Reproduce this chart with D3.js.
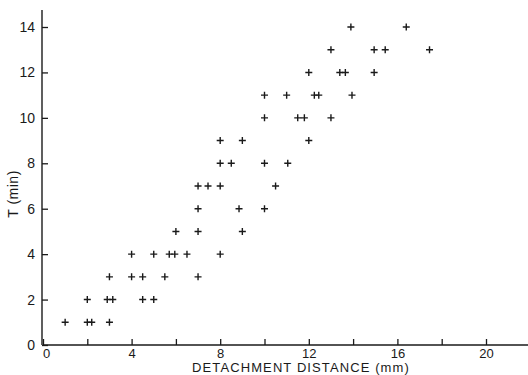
<!DOCTYPE html>
<html>
<head>
<meta charset="utf-8">
<script src="https://cdn.jsdelivr.net/npm/d3@7"></script>
<style>
  html, body { margin: 0; padding: 0; background: #fff; }
  svg { display: block; }
  text { font-family: "Liberation Sans", Arial, sans-serif; fill: #1a1a1a; }
</style>
</head>
<body>
<svg id="chart" width="528" height="375"></svg>
<script>
// Detachment distance (mm) and time T (min), grouped by T row
const distance = [
  1, 2, 2.2, 3,
  2, 2.9, 3.15, 4.5, 5,
  3, 4, 4.5, 5.5, 7,
  4, 5, 5.7, 5.95, 6.5, 8,
  6, 7, 9,
  7, 8.85, 10,
  7, 7.45, 8, 10.5,
  8, 8.5, 10, 11.05,
  8, 9, 12,
  10, 11.5, 11.8, 13,
  10, 11, 12.25, 12.45, 13.95,
  12, 13.4, 13.65, 14.95,
  13, 14.95, 15.45, 17.45,
  13.9, 16.4
];
const timeMin = [
  1, 1, 1, 1,
  2, 2, 2, 2, 2,
  3, 3, 3, 3, 3,
  4, 4, 4, 4, 4, 4,
  5, 5, 5,
  6, 6, 6,
  7, 7, 7, 7,
  8, 8, 8, 8,
  9, 9, 9,
  10, 10, 10, 10,
  11, 11, 11, 11, 11,
  12, 12, 12, 12,
  13, 13, 13, 13,
  14, 14
];
const xTicks = [0, 2, 4, 6, 8, 10, 12, 14, 16, 18, 20, 22];
const xTickLabels = ["0", "", "4", "", "8", "", "12", "", "16", "", "20", ""];
const yTicks = [0, 2, 4, 6, 8, 10, 12, 14];
const xTitle = "DETACHMENT DISTANCE (mm)";
const yTitle = "T (min)";

const svg = d3.select("#chart");
const x = d3.scaleLinear().domain([0, 20]).range([43, 486]);
const y = d3.scaleLinear().domain([0, 14]).range([345, 27]);

// x axis
const xAxis = d3.axisBottom(x)
  .tickValues(xTicks.filter(v => x(v) < 528))
  .tickSizeInner(-6).tickSizeOuter(0)
  .tickFormat((d) => xTickLabels[xTicks.indexOf(d)]);
const gx = svg.append("g").attr("transform", `translate(0,${y(0)})`).call(xAxis);
gx.select(".domain").remove();
gx.append("line").attr("x1", x(0)).attr("x2", 528).attr("y1", 0).attr("y2", 0)
  .attr("stroke", "#1a1a1a").attr("stroke-width", 1.4);
gx.selectAll(".tick line").attr("stroke", "#1a1a1a").attr("stroke-width", 1.3);
gx.selectAll(".tick text").attr("dy", null).attr("y", 13).attr("font-size", 13)
  .attr("fill", "#1a1a1a");
gx.selectAll(".tick").filter(d => d === 0).select("text").attr("dx", 3);

// y axis
const yAxis = d3.axisLeft(y).tickValues(yTicks).tickSizeInner(-6).tickSizeOuter(0)
  .tickFormat(d3.format("d"));
const gy = svg.append("g").attr("transform", `translate(${x(0) - 1},0)`).call(yAxis);
gy.select(".domain").remove();
gy.append("line").attr("x1", 0).attr("x2", 0).attr("y1", 10).attr("y2", y(0))
  .attr("stroke", "#1a1a1a").attr("stroke-width", 1.4);
gy.selectAll(".tick line").attr("stroke", "#1a1a1a").attr("stroke-width", 1.3);
gy.selectAll(".tick text").attr("x", -7).attr("font-size", 14).attr("fill", "#1a1a1a");

// titles
svg.append("text").attr("x", 301).attr("y", 371.5).attr("text-anchor", "middle")
  .attr("font-size", 13).attr("letter-spacing", 1.1).text(xTitle);
svg.append("text").attr("transform", "translate(18,194) rotate(-90)")
  .attr("text-anchor", "middle").attr("font-size", 14).attr("letter-spacing", 0.5).text(yTitle);

// points as plus markers
const pts = distance.map((d, i) => ({ d, t: timeMin[i] }));
const s = 3.5;
const g = svg.append("g").attr("stroke", "#1a1a1a").attr("stroke-width", 1.4);
g.selectAll("path").data(pts).join("path")
  .attr("d", p => {
    const px = x(p.d), py = y(p.t);
    return `M${px - s},${py}H${px + s}M${px},${py - s}V${py + s}`;
  });
</script>
</body>
</html>
